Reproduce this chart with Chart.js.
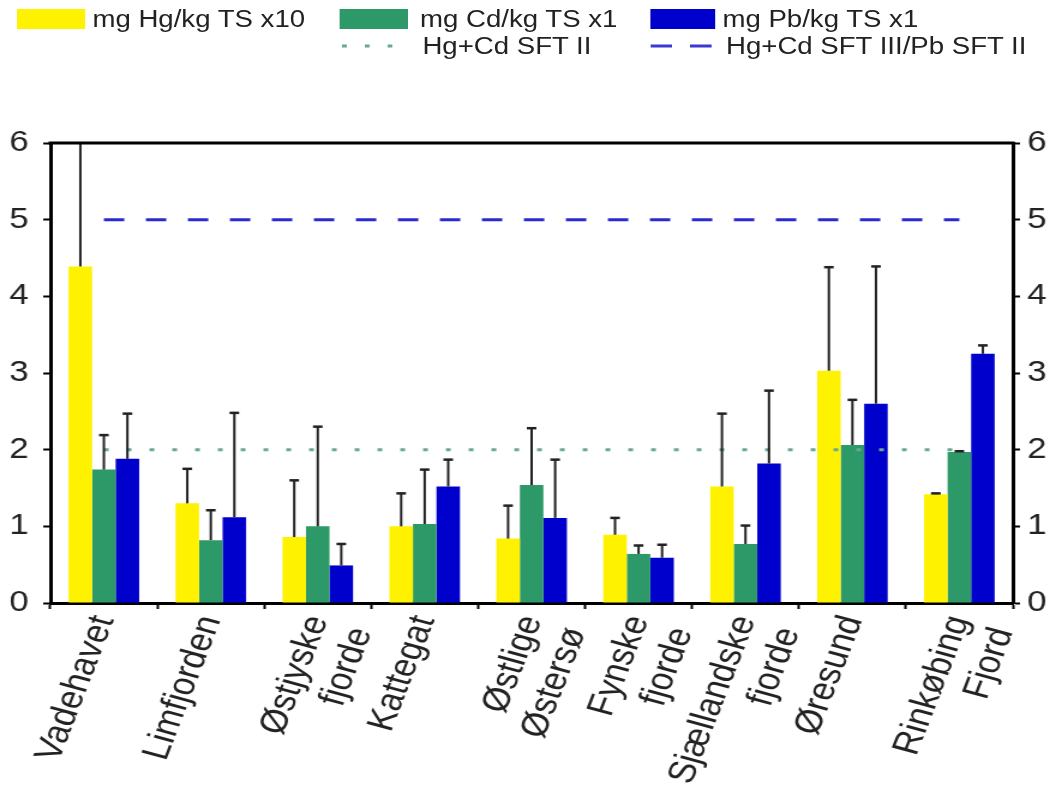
<!DOCTYPE html>
<html>
<head>
<meta charset="utf-8">
<script src="https://cdn.jsdelivr.net/npm/chart.js@4"></script>
<style>
  html, body { margin: 0; padding: 0; background: #fff; overflow: hidden; width: 1047px; height: 787px; }
  #wrap { position: absolute; left: 0; top: 0; width: 888px; height: 787px; transform: scaleX(1.2); transform-origin: 0 0; }
  .lg { position: absolute; font-family: "Liberation Sans", Arial, sans-serif; font-size: 23px; color: #222; white-space: nowrap; line-height: 23px; transform: translateY(-50%); }
  .sw { position: absolute; height: 20px; }
  svg { position: absolute; }
</style>
</head>
<body>
<div id="wrap">
  <canvas id="myChart"></canvas>
  <div class="sw" style="left:14px;top:9px;width:57px;background:#fff200"></div>
  <div class="lg" style="left:77px;top:19px">mg Hg/kg TS x10</div>
  <div class="sw" style="left:283px;top:9px;width:57px;background:#2e9968"></div>
  <div class="lg" style="left:350px;top:19px">mg Cd/kg TS x1</div>
  <div class="sw" style="left:542px;top:9px;width:54px;background:#0000cc"></div>
  <div class="lg" style="left:602px;top:19px">mg Pb/kg TS x1</div>
  <svg style="left:283px;top:43px" width="50" height="6"><line x1="2" y1="3" x2="46" y2="3" stroke="#6aa892" stroke-width="3" stroke-dasharray="4 15"/></svg>
  <div class="lg" style="left:352px;top:46px">Hg+Cd SFT II</div>
  <svg style="left:542px;top:43px" width="60" height="6"><line x1="0" y1="3" x2="56" y2="3" stroke="#3a3ad0" stroke-width="3" stroke-dasharray="18 15"/></svg>
  <div class="lg" style="left:605px;top:46px">Hg+Cd SFT III/Pb SFT II</div>
</div>
<script>
// categories and values
const areas = ['Vadehavet', 'Limfjorden', ['Østjyske', 'fjorde'], 'Kattegat', ['Østlige', 'Østersø'],
    ['Fynske', 'fjorde'], ['Sjællandske', 'fjorde'], 'Øresund', ['Rinkøbing', 'Fjord']];
const hg = [4.39, 1.30, 0.86, 1.00, 0.84, 0.89, 1.52, 3.03, 1.42];
const hgHigh = [6.5, 1.75, 1.60, 1.43, 1.27, 1.11, 2.47, 4.38, 1.43];
const cd = [1.74, 0.82, 1.00, 1.03, 1.54, 0.64, 0.77, 2.06, 1.97];
const cdHigh = [2.19, 1.21, 2.30, 1.74, 2.28, 0.75, 1.01, 2.65, 1.98];
const pb = [1.88, 1.12, 0.49, 1.52, 1.11, 0.59, 1.82, 2.60, 3.25];
const pbHigh = [2.47, 2.48, 0.77, 1.87, 1.87, 0.76, 2.77, 4.39, 3.36];
const yTicks = [0, 1, 2, 3, 4, 5, 6];

// reference levels, one value per area
const sft2 = [2, 2, 2, 2, 2, 2, 2, 2, 2];
const sft3 = [5, 5, 5, 5, 5, 5, 5, 5, 5];

const font = { family: '"Liberation Sans", Arial, sans-serif', size: 29 };

// upper error bars
const errorBars = {
    id: 'errorBars',
    afterDatasetsDraw(chart) {
        const ctx = chart.ctx;
        const area = chart.chartArea;
        const y = chart.scales.y;
        ctx.save();
        ctx.beginPath();
        ctx.rect(area.left, area.top, area.right - area.left, area.bottom - area.top);
        ctx.clip();
        ctx.strokeStyle = '#222';
        chart.data.datasets.forEach((ds, i) => {
            if (!ds.high) return;
            chart.getDatasetMeta(i).data.forEach((bar, j) => {
                const top = y.getPixelForValue(ds.high[j]);
                ctx.lineWidth = 2;
                ctx.beginPath();
                ctx.moveTo(bar.x, bar.y);
                ctx.lineTo(bar.x, top);
                ctx.stroke();
                ctx.lineWidth = 2.5;
                ctx.beginPath();
                ctx.moveTo(bar.x - 4, top);
                ctx.lineTo(bar.x + 4, top);
                ctx.stroke();
            });
        });
        ctx.restore();
    }
};

// top frame line
const topBorder = {
    id: 'topBorder',
    afterDraw(chart) {
        const ctx = chart.ctx;
        const a = chart.chartArea;
        ctx.save();
        ctx.strokeStyle = '#000';
        ctx.lineWidth = 3;
        ctx.beginPath();
        ctx.moveTo(a.left - 1.5, a.top);
        ctx.lineTo(a.right + 1.5, a.top);
        ctx.stroke();
        ctx.restore();
    }
};

const yAxis = (pos, w) => ({
    position: pos,
    min: 0,
    max: 6,
    afterBuildTicks: s => { s.ticks = yTicks.map(v => ({ value: v })); },
    afterFit: s => { s.width = w; },
    border: { color: '#000', width: 3 },
    grid: { drawOnChartArea: false, tickLength: 6, tickWidth: 2, color: '#000' },
    ticks: { font: font, color: '#222', padding: pos === 'left' ? 12 : 6 }
});

const ctx = document.getElementById('myChart').getContext('2d');
const myChart = new Chart(ctx, {
    type: 'bar',
    data: {
        labels: areas,
        datasets: [
            { label: 'mg Hg/kg TS x10', data: hg, high: hgHigh, backgroundColor: '#fff200', xAxisID: 'x', yAxisID: 'y', order: 2 },
            { label: 'mg Cd/kg TS x1', data: cd, high: cdHigh, backgroundColor: '#2e9968', xAxisID: 'x', yAxisID: 'y', order: 2 },
            { label: 'mg Pb/kg TS x1', data: pb, high: pbHigh, backgroundColor: '#0000cc', xAxisID: 'x', yAxisID: 'y', order: 2 },
            {
                type: 'line', label: 'Hg+Cd SFT II', data: sft2, xAxisID: 'x', yAxisID: 'y',
                borderColor: '#6aa892', borderWidth: 3, borderDash: [4, 15], pointRadius: 0, order: 1
            },
            {
                type: 'line', label: 'Hg+Cd SFT III/Pb SFT II', data: sft3, xAxisID: 'x', yAxisID: 'y',
                borderColor: '#2a2ad0', borderWidth: 3, borderDash: [17, 18], pointRadius: 0, order: 1
            }
        ]
    },
    options: {
        responsive: true,
        maintainAspectRatio: false,
        animation: false,
        layout: { padding: { top: 143, left: 0, right: 0, bottom: 0 } },
        plugins: { legend: { display: false }, tooltip: { enabled: false } },
        scales: {
            x: {
                afterFit: s => { s.height = 184; },
                border: { color: '#000', width: 3 },
                grid: { drawOnChartArea: false, tickLength: 6, tickWidth: 2, color: '#000' },
                ticks: { font: { family: font.family, size: 32 }, color: '#222', minRotation: 72, maxRotation: 72, padding: 2, autoSkip: false }
            },
            y: yAxis('left', 42),
            y2: yAxis('right', 44)
        },
        datasets: { bar: { categoryPercentage: 0.66, barPercentage: 1.0 } }
    },
    plugins: [errorBars, topBorder]
});
</script>
</body>
</html>
